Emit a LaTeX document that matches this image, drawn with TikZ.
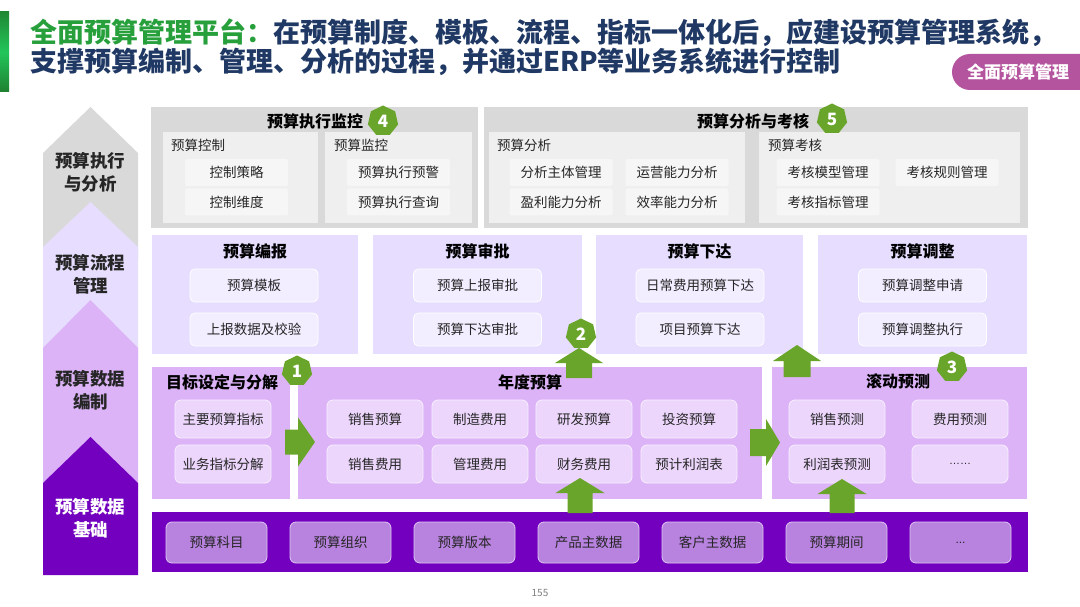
\documentclass[tikz,border=0pt]{standalone}
\usepackage{fontspec}
\setmainfont{Noto Sans CJK SC}
\newfontfamily\latinf{Liberation Sans}
\usetikzlibrary{shapes.geometric}
\definecolor{ttlgreen}{HTML}{27A03C}
\definecolor{navy}{HTML}{1F3864}
\definecolor{pillc}{HTML}{B4549E}
\definecolor{txt}{HTML}{262626}
\definecolor{graypan}{HTML}{D9D9D9}
\definecolor{graysub}{HTML}{EFEFEF}
\definecolor{grayitem}{HTML}{F6F6F6}
\definecolor{lavpan}{HTML}{E6DDFF}
\definecolor{lavitem}{HTML}{F2EDFF}
\definecolor{purppan}{HTML}{DDB3F8}
\definecolor{purpitem}{HTML}{ECD6FC}
\definecolor{dkpan}{HTML}{7200BE}
\definecolor{dkitem}{HTML}{B882DF}
\definecolor{grn}{HTML}{6AA52B}
\definecolor{barmid}{HTML}{22C55A}
\begin{document}
\begin{tikzpicture}[x=1pt,y=-1pt,
  ttl/.style={font=\fontsize{16}{19}\selectfont\bfseries, text=black, inner sep=0},
  sublbl/.style={font=\fontsize{13.5}{16}\selectfont, text=txt, anchor=west, inner sep=0},
  gitem/.style={fill=grayitem, rounded corners=2, minimum width=103, minimum height=27, inner sep=0, font=\fontsize{13.5}{16}\selectfont, text=txt},
  litem/.style={fill=lavitem, draw=white, line width=0.8, rounded corners=5, minimum width=128, minimum height=33, inner sep=0, font=\fontsize{13.5}{16}\selectfont, text=txt},
  pitem/.style={fill=purpitem, draw=white!60!purpitem, line width=0.8, rounded corners=6, minimum width=96, minimum height=38, inner sep=0, font=\fontsize{13.5}{16}\selectfont, text=txt},
  ditem/.style={fill=dkitem, draw=white!55!dkitem, line width=0.8, rounded corners=6, minimum width=101, minimum height=41, inner sep=0, font=\fontsize{13.5}{16}\selectfont, text=txt},
  badge/.style={regular polygon, regular polygon sides=7, minimum size=31, inner sep=0, fill=grn, text=white, font=\fontsize{17}{20}\selectfont\bfseries},
  leftlbl/.style={align=center, inner sep=0, font=\fontsize{17.5}{23}\selectfont\bfseries, text=txt},
  garrow/.style={fill=grn}
]
\useasboundingbox (0,0) rectangle (1080,607);
\fill[white] (0,0) rectangle (1080,607);

% ---- title
\shade[top color=ttlgreen!85!black, bottom color=ttlgreen!80!black, middle color=barmid] (0,12) rectangle (9,92);
\node[anchor=west, inner sep=0, font=\fontsize{27}{32}\selectfont\bfseries] (t1) at (30,33)
  {\textcolor{ttlgreen}{全面预算管理平台：}\textcolor{navy}{在预算制度、模板、流程、指标一体化后，应建设预算管理系统，}};
\node[anchor=west, inner sep=0, font=\fontsize{27}{32}\selectfont\bfseries, text=navy] (t2) at (30,62)
  {支撑预算编制、管理、分析的过程，并通过ERP等业务系统进行控制};
\fill[pillc, rounded corners=18] (952,54) rectangle (1100,90);
\node[inner sep=0, font=\fontsize{17}{20}\selectfont\bfseries, text=white] (pill) at (1018,72) {全面预算管理};

% ---- left column chevrons
\fill[graypan] (43,260) -- (43,153) -- (90.5,107) -- (138,153) -- (138,260) -- cycle;
\fill[lavpan] (43,360) -- (43,247) -- (90.5,202) -- (138,247) -- (138,360) -- cycle;
\fill[purppan] (43,490) -- (43,348) -- (90.5,300) -- (138,348) -- (138,490) -- cycle;
\fill[dkpan] (43,575) -- (43,483) -- (90.5,437) -- (138,483) -- (138,575) -- cycle;
\node[leftlbl] (l1) at (90.5,172) {预算执行\\与分析};
\node[leftlbl] (l2) at (90.5,274) {预算流程\\管理};
\node[leftlbl] (l3) at (90.5,390) {预算数据\\编制};
\node[leftlbl, text=white] (l4) at (90.5,518) {预算数据\\基础};

% ---- top: execution monitoring
\fill[graypan] (151,107) rectangle (478,228);
\node[ttl] (p4t) at (315,121) {预算执行监控};
\fill[graysub] (163,132) rectangle (318,223);
\node[sublbl] (sa) at (171,145) {预算控制};
\node[gitem] (a1) at (236.5,172.5) {控制策略};
\node[gitem] (a2) at (236.5,202) {控制维度};
\fill[graysub] (325,132) rectangle (472,223);
\node[sublbl] (sb) at (334,145) {预算监控};
\node[gitem] (b1) at (398.5,172.5) {预算执行预警};
\node[gitem] (b2) at (398.5,202) {预算执行查询};

% ---- top: analysis & assessment
\fill[graypan] (484,107) rectangle (1028,228);
\node[ttl] (p5t) at (753,121) {预算分析与考核};
\fill[graysub] (489,132) rectangle (745,223);
\node[sublbl] (sc) at (497,145) {预算分析};
\node[gitem] (c1) at (561,172.5) {分析主体管理};
\node[gitem] (c2) at (677,172.5) {运营能力分析};
\node[gitem] (c3) at (561,202) {盈利能力分析};
\node[gitem] (c4) at (677,202) {效率能力分析};
\fill[graysub] (759,132) rectangle (1020,223);
\node[sublbl] (sd) at (768,145) {预算考核};
\node[gitem] (d1) at (828,172.5) {考核模型管理};
\node[gitem] (d2) at (947,172.5) {考核规则管理};
\node[gitem] (d3) at (828,202) {考核指标管理};

% ---- row 2: process
\fill[lavpan] (152,235) rectangle (358,354);
\node[ttl] (e0) at (255,251) {预算编报};
\node[litem] (e1) at (254,285.5) {预算模板};
\node[litem] (e2) at (254,329.5) {上报数据及校验};
\fill[lavpan] (373,235) rectangle (582,354);
\node[ttl] (f0) at (477.5,251) {预算审批};
\node[litem] (f1) at (477.5,285.5) {预算上报审批};
\node[litem] (f2) at (477.5,329.5) {预算下达审批};
\fill[lavpan] (596,235) rectangle (803,354);
\node[ttl] (g0) at (699.5,251) {预算下达};
\node[litem] (g1) at (700,285.5) {日常费用预算下达};
\node[litem] (g2) at (700,329.5) {项目预算下达};
\fill[lavpan] (818,235) rectangle (1027,354);
\node[ttl] (h0) at (922.5,251) {预算调整};
\node[litem] (h1) at (922.5,285.5) {预算调整申请};
\node[litem] (h2) at (922.5,329.5) {预算调整执行};

% ---- row 3: compilation
\fill[purppan] (152,367) rectangle (290,499);
\node[ttl, anchor=west] (i0) at (166,382) {目标设定与分解};
\node[pitem] (i1) at (223,419) {主要预算指标};
\node[pitem] (i2) at (223,464) {业务指标分解};
\fill[purppan] (298,367) rectangle (762,499);
\node[ttl] (j0) at (530,382) {年度预算};
\node[pitem] (j1) at (375,419) {销售预算};
\node[pitem] (j2) at (480,419) {制造费用};
\node[pitem] (j3) at (584,419) {研发预算};
\node[pitem] (j4) at (689,419) {投资预算};
\node[pitem] (j5) at (375,464) {销售费用};
\node[pitem] (j6) at (480,464) {管理费用};
\node[pitem] (j7) at (584,464) {财务费用};
\node[pitem] (j8) at (689,464) {预计利润表};
\fill[purppan] (772,367) rectangle (1027,499);
\node[ttl] (k0) at (898,381) {滚动预测};
\node[pitem] (k1) at (837,419) {销售预测};
\node[pitem] (k2) at (960,419) {费用预测};
\node[pitem] (k3) at (837,464) {利润表预测};
\node[pitem] (k4) at (960,464) {{\latinf\fontsize{11}{13}\selectfont ……}};

% ---- bottom: master data
\fill[dkpan] (152,512) rectangle (1028,572);
\node[ditem] (m1) at (216.5,542.5) {预算科目};
\node[ditem] (m2) at (340.5,542.5) {预算组织};
\node[ditem] (m3) at (464.5,542.5) {预算版本};
\node[ditem] (m4) at (588.5,542.5) {产品主数据};
\node[ditem] (m5) at (712.5,542.5) {客户主数据};
\node[ditem] (m6) at (836.5,542.5) {预算期间};
\node[ditem] (m7) at (960.5,542.5) {{\latinf\fontsize{12}{14}\selectfont ...}};

% ---- green block arrows
\fill[garrow] (579,378) -- ++(-13,0) -- ++(0,-15) -- ++(-11,0) -- (579,348) -- ++(24,15) -- ++(-11,0) -- ++(0,15) -- cycle;
\fill[garrow] (797,377) -- ++(-13.5,0) -- ++(0,-16) -- ++(-10.5,0) -- (797,345) -- ++(24,16) -- ++(-10.5,0) -- ++(0,16) -- cycle;
\fill[garrow] (580,513) -- ++(-12.5,0) -- ++(0,-20) -- ++(-12,0) -- (580,478) -- ++(24.5,15) -- ++(-12,0) -- ++(0,20) -- cycle;
\fill[garrow] (842,513) -- ++(-12.5,0) -- ++(0,-19) -- ++(-12,0) -- (842,479) -- ++(24.5,15) -- ++(-12,0) -- ++(0,19) -- cycle;
\fill[garrow] (285,429.5) -- (298,429.5) -- (298,417.5) -- (315,442) -- (298,466.5) -- (298,454.5) -- (285,454.5) -- cycle;
\fill[garrow] (750,429) -- (766,429) -- (766,419) -- (780,442.5) -- (766,466) -- (766,456) -- (750,456) -- cycle;

% ---- badges
\node[badge] (n1) at (297,371) {1};
\node[badge] (n2) at (581,334) {2};
\node[badge] (n3) at (952,367) {3};
\node[badge] (n4) at (383,121) {4};
\node[badge] (n5) at (832,119) {5};

% ---- page number
\node[inner sep=0, font=\fontsize{10}{12}\selectfont, text=gray] (pg) at (540,593) {155};
\end{tikzpicture}
\end{document}
